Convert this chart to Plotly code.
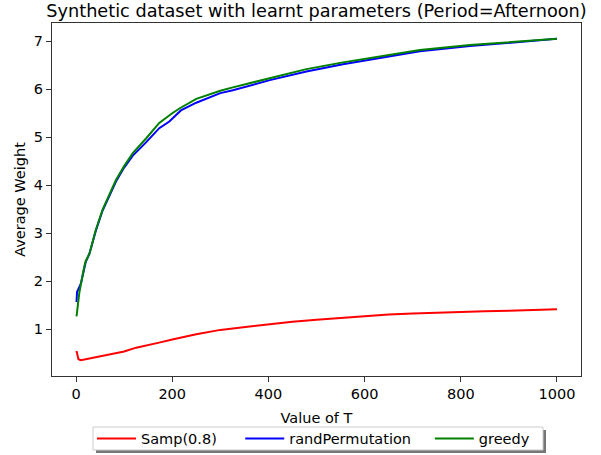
import plotly.graph_objects as go

# ---- data ----
samp_T = [1, 5, 10, 20, 30, 50, 75, 100, 125, 150, 175, 200, 250, 300, 350, 400,
          450, 500, 550, 600, 650, 700, 750, 800, 850, 900, 950, 1000]
samp_W = [0.55, 0.38, 0.36, 0.38, 0.40, 0.43, 0.48, 0.54, 0.62, 0.67, 0.73, 0.79,
          0.90, 0.99, 1.05, 1.11, 1.16, 1.20, 1.24, 1.28, 1.31, 1.33, 1.35, 1.36,
          1.38, 1.39, 1.41, 1.42]

rand_T = [1, 2, 10, 20, 28, 41, 55, 83, 100, 118, 146, 173, 194, 218, 250, 300,
          326, 350, 403, 479, 555, 632, 715, 819, 924, 1000]
rand_W = [1.57, 1.78, 1.95, 2.40, 2.58, 3.05, 3.47, 4.08, 4.37, 4.62, 4.90, 5.19,
          5.33, 5.56, 5.72, 5.92, 5.98, 6.05, 6.19, 6.37, 6.52, 6.65, 6.79, 6.90,
          6.99, 7.05]

greedy_T = [1, 7, 17, 20, 28, 41, 55, 83, 100, 118, 146, 173, 200, 215, 250, 300,
            326, 350, 403, 450, 479, 555, 600, 632, 715, 819, 924, 1000]
greedy_W = [1.27, 1.78, 2.30, 2.42, 2.58, 3.07, 3.49, 4.11, 4.40, 4.67, 4.98, 5.30,
            5.50, 5.60, 5.80, 5.97, 6.04, 6.10, 6.24, 6.35, 6.42, 6.56, 6.63, 6.69,
            6.82, 6.92, 7.00, 7.05]

series_names = ["Samp(0.8)", "randPermutation", "greedy"]
x_ticks = [0, 200, 400, 600, 800, 1000]
y_ticks = [1, 2, 3, 4, 5, 6, 7]

FONT = "DejaVu Sans"
W, H = 601, 455
ML, MR, MT, MB = 52, 20, 23, 79
PW, PH = W - ML - MR, H - MT - MB


def px_x(p):
    return (p - ML) / PW


def px_y(p):
    return (H - MB - p) / PH


NB = "\u00a0"

fig = go.Figure()
fig.add_trace(go.Scatter(x=samp_T, y=samp_W, mode="lines", name=series_names[0] + NB * 4,
                         line=dict(color="#ff0000", width=2)))
fig.add_trace(go.Scatter(x=rand_T, y=rand_W, mode="lines", name=series_names[1] + NB * 3,
                         line=dict(color="#0000ff", width=2)))
fig.add_trace(go.Scatter(x=greedy_T, y=greedy_W, mode="lines", name=series_names[2],
                         line=dict(color="#008000", width=2)))

axis_common = dict(showgrid=False, zeroline=False, showline=True, mirror=True,
                   linecolor="#333333", linewidth=1, ticks="outside", ticklen=5,
                   tickcolor="#333333", tickwidth=1, automargin=False,
                   tickfont=dict(family=FONT, size=14.5, color="black"))

# legend frame and its shadow (decoration)
shapes = [
    dict(type="rect", xref="paper", yref="paper", layer="above",
         x0=px_x(96), x1=px_x(546), y0=px_y(453), y1=px_y(430),
         fillcolor="#777777", line=dict(width=0)),
    dict(type="rect", xref="paper", yref="paper", layer="above",
         x0=px_x(93), x1=px_x(543), y0=px_y(450), y1=px_y(427),
         fillcolor="white", line=dict(color="#cccccc", width=1)),
]

fig.update_layout(
    width=W, height=H,
    margin=dict(l=ML, r=MR, t=MT, b=MB, autoexpand=False),
    paper_bgcolor="white", plot_bgcolor="white",
    font=dict(family=FONT, size=14.5, color="black"),
    title=dict(text="Synthetic dataset with learnt parameters (Period=Afternoon)",
               x=0.5, xref="paper", xanchor="center",
               y=1 - 10.5 / H, yref="container", yanchor="middle",
               font=dict(family=FONT, size=17.7, color="black")),
    xaxis=dict(range=[-50, 1050], tickvals=x_ticks,
               title=dict(text="Value of T", standoff=11,
                          font=dict(family=FONT, size=14.5)),
               **axis_common),
    yaxis=dict(range=[0.03, 7.38], tickvals=y_ticks,
               title=dict(text="Average Weight", standoff=4,
                          font=dict(family=FONT, size=14.5)),
               **axis_common),
    shapes=shapes,
    legend=dict(orientation="h", x=px_x(92), xanchor="left",
                y=px_y(438.5), yanchor="middle", itemwidth=39,
                bgcolor="rgba(0,0,0,0)", borderwidth=0,
                font=dict(family=FONT, size=14.5), traceorder="normal"),
    showlegend=True,
)

fig.write_html("out.html", config={"displayModeBar": False},
               post_script="document.body.style.margin='0';document.body.style.padding='0';")
